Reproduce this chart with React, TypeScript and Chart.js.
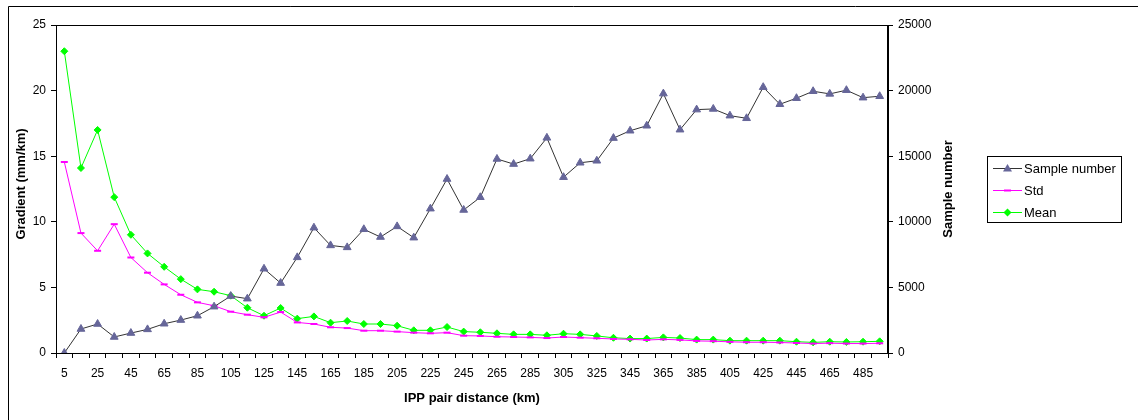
import React, { useEffect, useRef } from 'react';
import { Chart, registerables } from 'chart.js';

Chart.register(...registerables);

const categories = [
  '5', '15', '25', '35', '45', '55', '65', '75', '85', '95',
  '105', '115', '125', '135', '145', '155', '165', '175', '185', '195',
  '205', '215', '225', '235', '245', '255', '265', '275', '285', '295',
  '305', '315', '325', '335', '345', '355', '365', '375', '385', '395',
  '405', '415', '425', '435', '445', '455', '465', '475', '485', '495',
];

const sampleNumber = [
  0, 1830, 2210, 1220, 1520, 1800, 2230, 2510, 2840, 3530,
  4340, 4140, 6420, 5330, 7290, 9550, 8200, 8050, 9430, 8840,
  9650, 8790, 11000, 13260, 10900, 11870, 14790, 14400, 14810, 16400,
  13400, 14500, 14650, 16380, 16940, 17320, 19770, 17020, 18550, 18600,
  18090, 17890, 20260, 18960, 19420, 19950, 19750, 20030, 19460, 19570,
];

const stdValues = [
  14.56, 9.14, 7.79, 9.82, 7.28, 6.12, 5.23, 4.44, 3.86, 3.6,
  3.15, 2.92, 2.72, 3.12, 2.33, 2.21, 1.96, 1.9, 1.7, 1.7,
  1.63, 1.55, 1.5, 1.55, 1.32, 1.3, 1.24, 1.22, 1.19, 1.14,
  1.22, 1.17, 1.12, 1.07, 1.04, 0.99, 1.04, 1.0, 0.92, 0.9,
  0.85, 0.82, 0.82, 0.8, 0.76, 0.72, 0.75, 0.72, 0.72, 0.74,
];

const meanValues = [
  23.0, 14.1, 17.0, 11.88, 9.01, 7.59, 6.57, 5.63, 4.85, 4.67,
  4.37, 3.45, 2.84, 3.43, 2.62, 2.79, 2.31, 2.44, 2.21, 2.21,
  2.08, 1.73, 1.73, 1.98, 1.63, 1.58, 1.5, 1.42, 1.42, 1.35,
  1.47, 1.42, 1.3, 1.16, 1.1, 1.1, 1.19, 1.14, 1.02, 1.02,
  0.94, 0.94, 0.94, 0.94, 0.86, 0.81, 0.86, 0.84, 0.86, 0.89,
];

const leftTicks = [0, 5, 10, 15, 20, 25];
const rightTicks = [0, 5000, 10000, 15000, 20000, 25000];

const FONT = "'Liberation Sans', Arial, sans-serif";
const SAMPLE_MARK = '#666699';
const SAMPLE_LINE = '#333333';
const STD_COLOR = '#FF00FF';
const MEAN_COLOR = '#00FF00';

function drawMarker(ctx: CanvasRenderingContext2D, style: string, x: number, y: number, color: string) {
  ctx.fillStyle = color;
  ctx.strokeStyle = color;
  ctx.beginPath();
  if (style === 'triangle') {
    ctx.moveTo(x, y - 4.5);
    ctx.lineTo(x + 4.5, y + 3);
    ctx.lineTo(x - 4.5, y + 3);
    ctx.closePath();
    ctx.fill();
  } else if (style === 'line') {
    ctx.lineWidth = 2;
    ctx.moveTo(x - 3.5, y);
    ctx.lineTo(x + 3.5, y);
    ctx.stroke();
  } else {
    ctx.moveTo(x, y - 4);
    ctx.lineTo(x + 4, y);
    ctx.lineTo(x, y + 4);
    ctx.lineTo(x - 4, y);
    ctx.closePath();
    ctx.fill();
  }
}

export default function App() {
  const ref = useRef<HTMLCanvasElement>(null);

  useEffect(() => {
    document.documentElement.style.overflow = 'hidden';
    if (!ref.current) return;

    const legendItems = [
      { label: 'Sample number', line: SAMPLE_LINE, fill: SAMPLE_MARK, style: 'triangle' },
      { label: 'Std', line: STD_COLOR, fill: STD_COLOR, style: 'line' },
      { label: 'Mean', line: MEAN_COLOR, fill: MEAN_COLOR, style: 'rectRot' },
    ];

    const deco = {
      id: 'deco',
      afterDraw(chart: any) {
        const ctx = chart.ctx as CanvasRenderingContext2D;
        const a = chart.chartArea;
        ctx.save();
        ctx.strokeStyle = '#000';
        ctx.lineWidth = 1;
        ctx.beginPath();
        ctx.moveTo(0.5, chart.height);
        ctx.lineTo(0.5, 0.5);
        ctx.lineTo(chart.width, 0.5);
        ctx.stroke();
        ctx.strokeRect(Math.round(a.left) + 0.5, Math.round(a.top) + 0.5, Math.round(a.right - a.left) - 1, Math.round(a.bottom - a.top));
        ctx.fillStyle = '#000';
        ctx.font = `bold 13px ${FONT}`;
        ctx.textAlign = 'center';
        ctx.textBaseline = 'middle';
        const midY = (a.top + a.bottom) / 2;
        ctx.save();
        ctx.translate(13, midY - 5);
        ctx.rotate(-Math.PI / 2);
        ctx.fillText('Gradient (mm/km)', 0, 0);
        ctx.restore();
        ctx.save();
        ctx.translate(940.5, midY);
        ctx.rotate(-Math.PI / 2);
        ctx.fillText('Sample number', 0, 0);
        ctx.restore();
        ctx.fillText('IPP pair distance (km)', (a.left + a.right) / 2, 392);
        const bx = 979.5, by = 150.5, bw = 134, bh = 66;
        ctx.fillStyle = '#fff';
        ctx.fillRect(bx, by, bw, bh);
        ctx.strokeStyle = '#000';
        ctx.lineWidth = 1;
        ctx.strokeRect(bx, by, bw, bh);
        ctx.font = `13px ${FONT}`;
        ctx.textAlign = 'left';
        ctx.textBaseline = 'middle';
        legendItems.forEach((it, i) => {
          const y = 162.5 + i * 22;
          ctx.strokeStyle = it.line;
          ctx.lineWidth = 1;
          ctx.beginPath();
          ctx.moveTo(985, y);
          ctx.lineTo(1014, y);
          ctx.stroke();
          drawMarker(ctx, it.style, 999.5, y, it.fill);
          ctx.fillStyle = '#000';
          ctx.fillText(it.label, 1016, y + 0.5);
        });
        ctx.restore();
      },
    };

    const chart = new Chart(ref.current, {
      type: 'line',
      data: {
        labels: categories,
        datasets: [
          {
            label: 'Sample number',
            data: sampleNumber,
            yAxisID: 'y1',
            borderColor: SAMPLE_LINE,
            borderWidth: 1,
            backgroundColor: SAMPLE_MARK,
            pointStyle: 'triangle',
            pointRadius: 4.5,
            pointBackgroundColor: SAMPLE_MARK,
            pointBorderColor: SAMPLE_MARK,
            pointBorderWidth: 1,
            tension: 0,
          },
          {
            label: 'Std',
            data: stdValues,
            yAxisID: 'y',
            borderColor: STD_COLOR,
            borderWidth: 1,
            backgroundColor: STD_COLOR,
            pointStyle: 'line',
            pointRadius: 3.5,
            pointBorderColor: STD_COLOR,
            pointBorderWidth: 2,
            tension: 0,
          },
          {
            label: 'Mean',
            data: meanValues,
            yAxisID: 'y',
            borderColor: MEAN_COLOR,
            borderWidth: 1,
            backgroundColor: MEAN_COLOR,
            pointStyle: 'rectRot',
            pointRadius: 3.5,
            pointBackgroundColor: MEAN_COLOR,
            pointBorderColor: MEAN_COLOR,
            pointBorderWidth: 1,
            tension: 0,
          },
        ],
      },
      options: {
        responsive: false,
        animation: false,
        devicePixelRatio: 1,
        layout: { padding: { top: 19, right: 170, left: 0, bottom: 0 } },
        plugins: {
          legend: { display: false },
          tooltip: { enabled: false },
        },
        scales: {
          x: {
            type: 'category',
            offset: true,
            afterFit: (s: any) => { s.height = 67; },
            grid: { display: true, offset: true, drawOnChartArea: false, drawTicks: true, tickLength: 5, color: '#000', lineWidth: 1 },
            border: { display: true, color: '#000', width: 1 },
            ticks: {
              autoSkip: false,
              maxRotation: 0,
              minRotation: 0,
              padding: 8,
              color: '#000',
              font: { family: FONT, size: 12 },
              callback: (_v: any, i: number) => (i % 2 === 0 ? categories[i] : ''),
            },
          },
          y: {
            type: 'linear',
            position: 'left',
            min: leftTicks[0],
            max: leftTicks[leftTicks.length - 1],
            afterFit: (s: any) => { s.width = 48; },
            afterBuildTicks: (s: any) => { s.ticks = leftTicks.map((v) => ({ value: v })); },
            grid: { display: true, drawOnChartArea: false, drawTicks: true, tickLength: 5, color: '#000', lineWidth: 1 },
            border: { display: true, color: '#000', width: 1 },
            ticks: {
              padding: 5,
              color: '#000',
              font: { family: FONT, size: 12 },
              callback: (v: any) => String(v),
            },
          },
          y1: {
            type: 'linear',
            position: 'right',
            min: rightTicks[0],
            max: rightTicks[rightTicks.length - 1],
            afterFit: (s: any) => { s.width = 80; },
            afterBuildTicks: (s: any) => { s.ticks = rightTicks.map((v) => ({ value: v })); },
            grid: { display: true, drawOnChartArea: false, drawTicks: true, tickLength: 5, color: '#000', lineWidth: 1 },
            border: { display: true, color: '#000', width: 1 },
            ticks: {
              padding: 5,
              color: '#000',
              font: { family: FONT, size: 12 },
              callback: (v: any) => String(v),
            },
          },
        },
      },
      plugins: [deco],
    } as any);

    return () => chart.destroy();
  }, []);

  return (
    <div style={{ position: 'fixed', left: 8, top: 6, width: 1130, height: 414, background: '#fff' }}>
      <canvas ref={ref} width={1130} height={414} style={{ display: 'block', width: 1130, height: 414 }} />
    </div>
  );
}
